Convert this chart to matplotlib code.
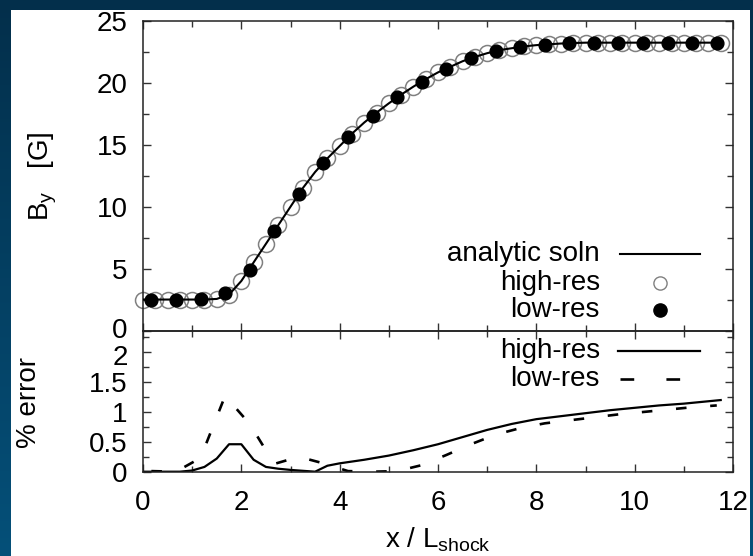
import numpy as np
import matplotlib
matplotlib.use("Agg")
import matplotlib.pyplot as plt
from matplotlib.patches import Rectangle
from matplotlib.colors import LinearSegmentedColormap
from matplotlib.transforms import ScaledTranslation

plt.rcParams['font.family'] = ['Liberation Sans', 'DejaVu Sans']
plt.rcParams['mathtext.fontset'] = 'custom'
plt.rcParams['mathtext.rm'] = 'Liberation Sans'
plt.rcParams['mathtext.it'] = 'Liberation Sans'
plt.rcParams['mathtext.default'] = 'regular'

# ---------------- data ----------------
# analytic solution (sampled on the high-res grid)
x_hi = [0.00, 0.25, 0.50, 0.75, 1.00, 1.25, 1.50, 1.75, 2.00, 2.25, 2.50, 2.75,
        3.00, 3.25, 3.50, 3.75, 4.00, 4.25, 4.50, 4.75, 5.00, 5.25, 5.50, 5.75,
        6.00, 6.25, 6.50, 6.75, 7.00, 7.25, 7.50, 7.75, 8.00, 8.25, 8.50, 8.75,
        9.00, 9.25, 9.50, 9.75, 10.00, 10.25, 10.50, 10.75, 11.00, 11.25, 11.50, 11.75]
analytic = [2.50, 2.50, 2.50, 2.50, 2.50, 2.50, 2.55, 2.90, 4.00, 5.50, 7.00, 8.50,
            10.00, 11.50, 12.80, 13.90, 14.90, 15.90, 16.80, 17.60, 18.35, 19.05, 19.70, 20.30,
            20.85, 21.30, 21.75, 22.10, 22.40, 22.65, 22.80, 22.95, 23.05, 23.12, 23.18, 23.22,
            23.25, 23.25, 23.25, 23.25, 23.25, 23.25, 23.25, 23.25, 23.25, 23.25, 23.25, 23.25]
By_hi = [2.50, 2.50, 2.50, 2.50, 2.50, 2.50, 2.55, 2.90, 4.00, 5.50, 7.00, 8.50,
         10.00, 11.50, 12.80, 13.90, 14.90, 15.90, 16.80, 17.60, 18.35, 19.05, 19.70, 20.30,
         20.85, 21.30, 21.75, 22.10, 22.40, 22.65, 22.80, 22.95, 23.05, 23.12, 23.18, 23.22,
         23.25, 23.25, 23.25, 23.25, 23.25, 23.25, 23.25, 23.25, 23.25, 23.25, 23.25, 23.25]

x_lo = [0.17, 0.67, 1.17, 1.67, 2.17, 2.67, 3.17, 3.67, 4.17, 4.67, 5.17, 5.67,
        6.17, 6.67, 7.17, 7.67, 8.17, 8.67, 9.17, 9.67, 10.17, 10.67, 11.17, 11.67]
By_lo = [2.50, 2.50, 2.55, 3.05, 4.90, 8.00, 11.00, 13.55, 15.60, 17.35, 18.85, 20.10,
         21.15, 22.00, 22.55, 22.90, 23.07, 23.20, 23.25, 23.25, 23.25, 23.25, 23.25, 23.25]

# percent error
x_err_hi = [0.00, 0.25, 0.50, 0.75, 1.00, 1.25, 1.50, 1.75, 2.00, 2.25, 2.50, 2.75,
            3.00, 3.25, 3.50, 3.75, 4.00, 4.50, 5.00, 5.50, 6.00, 6.50, 7.00, 7.50,
            8.00, 8.50, 9.00, 9.50, 10.00, 10.50, 11.00, 11.50, 11.75]
err_hi = [0.00, 0.00, 0.00, 0.00, 0.02, 0.08, 0.22, 0.46, 0.46, 0.20, 0.08, 0.05,
          0.03, 0.015, 0.00, 0.10, 0.14, 0.20, 0.27, 0.36, 0.46, 0.58, 0.70, 0.80,
          0.88, 0.93, 0.98, 1.03, 1.07, 1.11, 1.14, 1.18, 1.20]
err_lo = [0.01, 0.00, 0.23, 1.27, 0.80, 0.13, 0.25, 0.14, 0.01, 0.00, 0.01, 0.11,
          0.28, 0.46, 0.62, 0.73, 0.81, 0.86, 0.91, 0.96, 1.00, 1.04, 1.08, 1.11]

x_ticks = [0, 2, 4, 6, 8, 10, 12]
By_ticks = [0, 5, 10, 15, 20, 25]
err_ticks = [0, 0.5, 1, 1.5, 2]
err_tick_labels = ['0', '0.5', '1', '1.5', '2']

# ---------------- figure ----------------
W, H = 753, 556
fig = plt.figure(figsize=(W / 100, H / 100), dpi=100)

# gradient background
bg = fig.add_axes([0, 0, 1, 1], zorder=-10)
bg.set_axis_off()
cmap = LinearSegmentedColormap.from_list('bg', ['#032f4b', '#055079'])
grad = np.linspace(0, 1, 256).reshape(-1, 1)
bg.imshow(grad, aspect='auto', cmap=cmap, extent=[0, 1, 0, 1], origin='upper')
bg.add_patch(Rectangle((11 / W, 0), (750 - 11) / W, (H - 9.5) / H,
                       transform=bg.transAxes, facecolor='white', edgecolor='none'))
bg.set_xlim(0, 1); bg.set_ylim(0, 1)

FS = 20      # legend / axis-label text
TFS = 20     # tick labels
left, right = 143, 733
top_t, top_b = 21, 330.5
bot_b = 471.7

def fc(l, t, r, b):
    return [l / W, 1 - b / H, (r - l) / W, (b - t) / H]

ax1 = fig.add_axes(fc(left, top_t, right, top_b))
ax2 = fig.add_axes(fc(left, top_b, right, bot_b))

for ax in (ax1, ax2):
    ax.set_facecolor('none')
    for s in ax.spines.values():
        s.set_linewidth(1.1)
        s.set_color('#222222')
    ax.set_xlim(0, 12)
    ax.set_xticks(x_ticks)
    ax.set_xticks(np.arange(0, 13, 1), minor=True)
    ax.tick_params(which='both', direction='in', top=True, right=True,
                   width=1.0, color='#333333', labelsize=TFS)
    ax.tick_params(which='major', length=6)
    ax.tick_params(which='minor', length=4)
    ax.tick_params(axis='y', pad=11)
    ax.tick_params(axis='x', pad=13)

# top panel
ax1.set_ylim(0, 25)
ax1.set_yticks(By_ticks)
ax1.set_yticks(np.arange(0, 25.1, 2.5), minor=True)
ax1.tick_params(axis='x', labelbottom=False)
ax1.plot(x_hi, By_hi, linestyle='none', marker='o', markersize=11.5,
         markerfacecolor='none', markeredgecolor='#808080', markeredgewidth=1.1,
         clip_on=False, zorder=2)
ax1.plot(x_hi, analytic, color='black', lw=1.5, zorder=3)
ax1.plot(x_lo, By_lo, linestyle='none', marker='o', markersize=9.2,
         markerfacecolor='black', markeredgecolor='black', zorder=4, clip_on=False)

# top legend (manual, gnuplot style)
def ax_x(px):
    return (px - left) / (right - left)

def ax1_y(py):
    return (top_b - py) / (top_b - top_t)

def ax2_y(py):
    return (bot_b - py) / (bot_b - top_b)

tr1 = ax1.transAxes
ax1.text(ax_x(600), ax1_y(254), 'analytic soln', transform=tr1, ha='right', va='center', fontsize=FS)
ax1.plot([ax_x(620), ax_x(700)], [ax1_y(254)] * 2, transform=tr1, color='black', lw=1.5)
ax1.text(ax_x(600), ax1_y(282.5), 'high-res', transform=tr1, ha='right', va='center', fontsize=FS)
ax1.plot([ax_x(660)], [ax1_y(282.5)], transform=tr1, marker='o', markersize=9.5,
         markerfacecolor='none', markeredgecolor='#808080', markeredgewidth=1.0)
ax1.text(ax_x(600), ax1_y(310), 'low-res', transform=tr1, ha='right', va='center', fontsize=FS)
ax1.plot([ax_x(660)], [ax1_y(310)], transform=tr1, marker='o', markersize=9.5,
         markerfacecolor='black', markeredgecolor='black')

ax1.text(43 / W, 1 - 176 / H, r'B$_y$   [G]', transform=fig.transFigure, rotation=90,
         ha='center', va='center', fontsize=FS)

# bottom panel
ax2.set_ylim(0, (bot_b - top_b) / 59.7)
ax2.set_yticks(err_ticks)
ax2.set_yticklabels(err_tick_labels)
ax2.set_yticks(np.arange(0, 2.3, 0.25), minor=True)
dash = (0, (4.0, 9.0))
ax2.plot(x_err_hi, err_hi, color='black', lw=1.6)
ax2.plot(x_lo, err_lo, color='black', lw=1.9, linestyle=dash)

tr2 = ax2.transAxes
ax2.text(ax_x(600), ax2_y(351), 'high-res', transform=tr2, ha='right', va='center', fontsize=FS)
ax2.plot([ax_x(618), ax_x(700)], [ax2_y(351)] * 2, transform=tr2, color='black', lw=1.6)
ax2.text(ax_x(600), ax2_y(379), 'low-res', transform=tr2, ha='right', va='center', fontsize=FS)
ax2.plot([ax_x(620), ax_x(700)], [ax2_y(379)] * 2, transform=tr2, color='black', lw=1.9,
         linestyle=(0, (5.2, 12.2)))

ax2.text(29 / W, 1 - 402 / H, '% error', transform=fig.transFigure, rotation=90,
         ha='center', va='center', fontsize=FS)
fig.text(438 / W, 1 - 547 / H, r'x / L$_{shock}$', ha='center', va='baseline', fontsize=FS)

# nudge the two labels that meet at the shared spine apart a little
t0 = ax1.yaxis.get_major_ticks()[0].label1
t0.set_transform(t0.get_transform() + ScaledTranslation(0, 3 / 100, fig.dpi_scale_trans))
t2 = ax2.yaxis.get_major_ticks()[-1].label1
t2.set_transform(t2.get_transform() + ScaledTranslation(0, -2.5 / 100, fig.dpi_scale_trans))

# right border strip clipping the "12" label
rb = fig.add_axes([750 / W, 0, 3 / W, 1], zorder=10)
rb.set_axis_off()
rb.imshow(grad, aspect='auto', cmap=cmap, extent=[0, 1, 0, 1], origin='upper')

fig.savefig('out.png', dpi=100)
